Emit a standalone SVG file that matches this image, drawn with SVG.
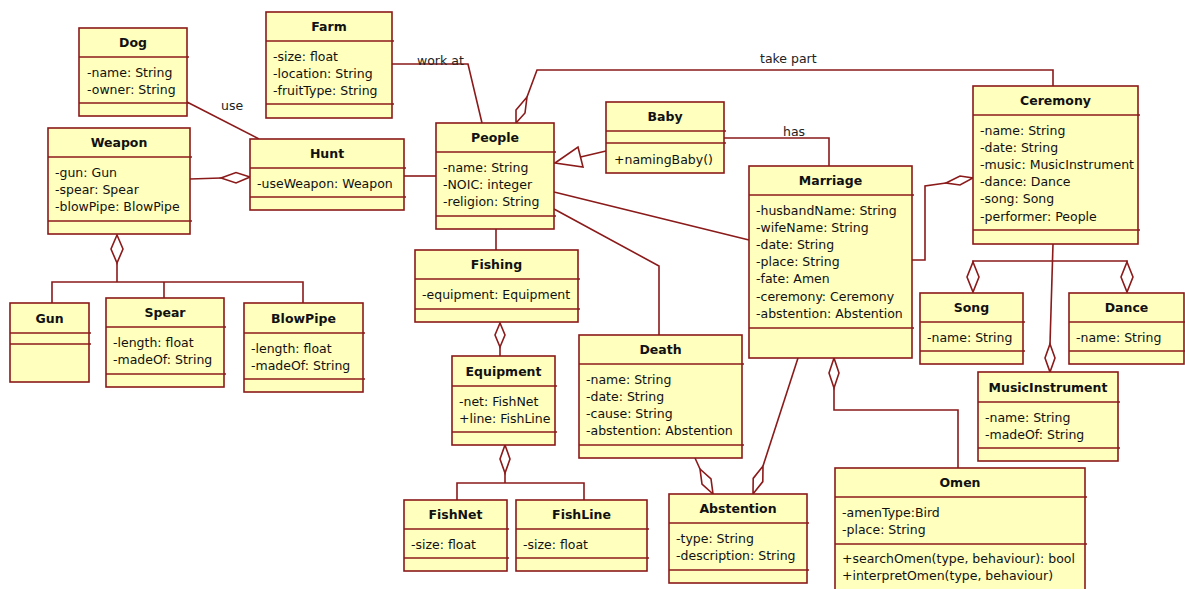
<svg xmlns="http://www.w3.org/2000/svg" width="1185" height="589" viewBox="0 0 1185 589">
<style>
.box{fill:#ffffbe;stroke:#8b1a1a;stroke-width:1.6}
.sep{stroke:#8b1a1a;stroke-width:1.6}
.t{font-family:"DejaVu Sans",Verdana,sans-serif;font-size:12.5px;font-weight:bold;text-anchor:middle;fill:#111}
.a{font-family:"DejaVu Sans",Verdana,sans-serif;font-size:12.5px;fill:#111}
.ln{fill:none;stroke:#8b1a1a;stroke-width:1.6}
.dm{fill:#fff;stroke:#8b1a1a;stroke-width:1.6}
.lb{font-family:"DejaVu Sans",Verdana,sans-serif;font-size:12.5px;fill:#222}
</style>
<rect width="1185" height="589" fill="#fff"/>
<g id="connectors">
<polyline class="ln" points="187,102 259,139"/>
<text class="lb" x="221" y="110">use</text>
<polyline class="ln" points="190,179 221,178"/>
<polygon class="dm" points="250,177 236,172.5 221,178 236,183"/>
<polyline class="ln" points="404,176 436,176"/>
<polyline class="ln" points="392,64 468,64 482,123"/>
<text class="lb" x="417" y="64.5">work at</text>
<polyline class="ln" points="527,97 537,70 1053,70 1053,86"/>
<polygon class="dm" points="516,123 516,110 527,97 525,113"/>
<text class="lb" x="760" y="62.5">take part</text>
<polyline class="ln" points="580.5,157 606,151"/>
<polygon class="dm" points="555,163 578,147 583,167"/>
<polyline class="ln" points="724,138 829,138 829,166"/>
<text class="lb" x="783" y="136">has</text>
<polyline class="ln" points="554,192 749,240"/>
<polyline class="ln" points="554,209 659,266 659,335"/>
<polyline class="ln" points="496,229 496,250"/>
<polyline class="ln" points="500,347 500,356"/>
<polygon class="dm" points="500,323 505,335 500,347 495,335"/>
<polyline class="ln" points="505,473 505,483"/>
<polyline class="ln" points="457,500 457,483 584,483 584,500"/>
<polygon class="dm" points="505,445 510,459 505,473 500,459"/>
<polyline class="ln" points="912,260 925,260 925,186 946,183"/>
<polygon class="dm" points="946,183 960,176 973,178 960,185"/>
<polyline class="ln" points="973,262 973,261 1127,261 1127,262"/>
<polygon class="dm" points="973,262 979,277 973,292 967,277"/>
<polygon class="dm" points="1127,262 1133,277 1127,292 1121,277"/>
<polyline class="ln" points="1053,244 1050,344"/>
<polygon class="dm" points="1050,344 1055,358 1050,372 1045,358"/>
<polyline class="ln" points="834,388 834,410 958,410 958,468"/>
<polygon class="dm" points="834,358 839,373 834,388 829,373"/>
<polyline class="ln" points="798,358 763,466"/>
<polygon class="dm" points="763,466 762.8,481.6 753,494 753.2,478.4"/>
<polyline class="ln" points="695,458 700,469"/>
<polygon class="dm" points="700,469 711,479 713,494 702,484"/>
<polyline class="ln" points="117,263 117,282"/>
<polyline class="ln" points="52,303 52,282 303,282 303,303"/>
<polyline class="ln" points="164,282 164,298"/>
<polygon class="dm" points="117,235 123,249 117,263 111,249"/>
</g>
<g id="Dog"><rect class="box" x="79" y="28" width="108" height="88"/><line class="sep" x1="79" y1="57" x2="189" y2="57"/><line class="sep" x1="79" y1="103" x2="189" y2="103"/>
<text class="t" x="133" y="47">Dog</text><text class="a" x="87" y="76.5">-name: String</text><text class="a" x="87" y="93.7">-owner: String</text></g>
<g id="Farm"><rect class="box" x="266" y="12" width="126" height="106"/><line class="sep" x1="266" y1="41" x2="394" y2="41"/><line class="sep" x1="266" y1="104" x2="394" y2="104"/>
<text class="t" x="329" y="31">Farm</text><text class="a" x="273" y="60.5">-size: float</text><text class="a" x="273" y="77.7">-location: String</text><text class="a" x="273" y="94.9">-fruitType: String</text></g>
<g id="Weapon"><rect class="box" x="48" y="128" width="142" height="106"/><line class="sep" x1="48" y1="157" x2="192" y2="157"/><line class="sep" x1="48" y1="221" x2="192" y2="221"/>
<text class="t" x="119" y="147">Weapon</text><text class="a" x="55" y="176.5">-gun: Gun</text><text class="a" x="55" y="193.7">-spear: Spear</text><text class="a" x="55" y="210.9">-blowPipe: BlowPipe</text></g>
<g id="Hunt"><rect class="box" x="250" y="139" width="154" height="71"/><line class="sep" x1="250" y1="168" x2="406" y2="168"/><line class="sep" x1="250" y1="197" x2="406" y2="197"/>
<text class="t" x="327" y="158">Hunt</text><text class="a" x="257" y="187.5">-useWeapon: Weapon</text></g>
<g id="People"><rect class="box" x="436" y="123" width="118" height="106"/><line class="sep" x1="436" y1="152" x2="556" y2="152"/><line class="sep" x1="436" y1="216" x2="556" y2="216"/>
<text class="t" x="495" y="142">People</text><text class="a" x="443" y="171.5">-name: String</text><text class="a" x="443" y="188.7">-NOIC: integer</text><text class="a" x="443" y="205.9">-religion: String</text></g>
<g id="Baby"><rect class="box" x="606" y="102" width="118" height="71"/><line class="sep" x1="606" y1="131" x2="726" y2="131"/><line class="sep" x1="606" y1="143" x2="726" y2="143"/>
<text class="t" x="665" y="121">Baby</text><text class="a" x="614" y="163.5">+namingBaby()</text></g>
<g id="Marriage"><rect class="box" x="749" y="166" width="163" height="192"/><line class="sep" x1="749" y1="195" x2="914" y2="195"/><line class="sep" x1="749" y1="328" x2="914" y2="328"/>
<text class="t" x="830.5" y="185">Marriage</text><text class="a" x="756" y="214.5">-husbandName: String</text><text class="a" x="756" y="231.7">-wifeName: String</text><text class="a" x="756" y="248.9">-date: String</text><text class="a" x="756" y="266.1">-place: String</text><text class="a" x="756" y="283.3">-fate: Amen</text><text class="a" x="756" y="300.5">-ceremony: Ceremony</text><text class="a" x="756" y="317.7">-abstention: Abstention</text></g>
<g id="Ceremony"><rect class="box" x="973" y="86" width="165" height="158"/><line class="sep" x1="973" y1="115" x2="1140" y2="115"/><line class="sep" x1="973" y1="230" x2="1140" y2="230"/>
<text class="t" x="1055.5" y="105">Ceremony</text><text class="a" x="980" y="134.5">-name: String</text><text class="a" x="980" y="151.7">-date: String</text><text class="a" x="980" y="168.9">-music: MusicInstrument</text><text class="a" x="980" y="186.1">-dance: Dance</text><text class="a" x="980" y="203.3">-song: Song</text><text class="a" x="980" y="220.5">-performer: People</text></g>
<g id="Song"><rect class="box" x="920" y="293" width="103" height="71"/><line class="sep" x1="920" y1="322" x2="1025" y2="322"/><line class="sep" x1="920" y1="351" x2="1025" y2="351"/>
<text class="t" x="971.5" y="312">Song</text><text class="a" x="927" y="341.5">-name: String</text></g>
<g id="Dance"><rect class="box" x="1069" y="293" width="115" height="71"/><line class="sep" x1="1069" y1="322" x2="1185" y2="322"/><line class="sep" x1="1069" y1="351" x2="1185" y2="351"/>
<text class="t" x="1126.5" y="312">Dance</text><text class="a" x="1076" y="341.5">-name: String</text></g>
<g id="MusicInstrument"><rect class="box" x="978" y="372" width="140" height="89"/><line class="sep" x1="978" y1="402" x2="1120" y2="402"/><line class="sep" x1="978" y1="448" x2="1120" y2="448"/>
<text class="t" x="1048" y="391.5">MusicInstrument</text><text class="a" x="985" y="421.5">-name: String</text><text class="a" x="985" y="438.7">-madeOf: String</text></g>
<g id="Omen"><rect class="box" x="835" y="468" width="250" height="130"/><line class="sep" x1="835" y1="497" x2="1087" y2="497"/><line class="sep" x1="835" y1="544" x2="1087" y2="544"/>
<text class="t" x="960" y="487">Omen</text><text class="a" x="842" y="516.5">-amenType:Bird</text><text class="a" x="842" y="533.7">-place: String</text><text class="a" x="842" y="562.5">+searchOmen(type, behaviour): bool</text><text class="a" x="842" y="580">+interpretOmen(type, behaviour)</text></g>
<g id="Fishing"><rect class="box" x="415" y="250" width="163" height="72"/><line class="sep" x1="415" y1="279" x2="580" y2="279"/><line class="sep" x1="415" y1="309" x2="580" y2="309"/>
<text class="t" x="496.5" y="269">Fishing</text><text class="a" x="422" y="298.5">-equipment: Equipment</text></g>
<g id="Equipment"><rect class="box" x="452" y="356" width="103" height="89"/><line class="sep" x1="452" y1="386" x2="557" y2="386"/><line class="sep" x1="452" y1="432" x2="557" y2="432"/>
<text class="t" x="503.5" y="375.5">Equipment</text><text class="a" x="459" y="405.5">-net: FishNet</text><text class="a" x="459" y="422.7">+line: FishLine</text></g>
<g id="Death"><rect class="box" x="579" y="335" width="163" height="123"/><line class="sep" x1="579" y1="364" x2="744" y2="364"/><line class="sep" x1="579" y1="445" x2="744" y2="445"/>
<text class="t" x="660.5" y="354">Death</text><text class="a" x="586" y="383.5">-name: String</text><text class="a" x="586" y="400.7">-date: String</text><text class="a" x="586" y="417.9">-cause: String</text><text class="a" x="586" y="435.1">-abstention: Abstention</text></g>
<g id="Abstention"><rect class="box" x="669" y="494" width="138" height="89"/><line class="sep" x1="669" y1="523" x2="809" y2="523"/><line class="sep" x1="669" y1="570" x2="809" y2="570"/>
<text class="t" x="738" y="513">Abstention</text><text class="a" x="676" y="542.5">-type: String</text><text class="a" x="676" y="559.7">-description: String</text></g>
<g id="FishNet"><rect class="box" x="404" y="500" width="103" height="71"/><line class="sep" x1="404" y1="529" x2="509" y2="529"/><line class="sep" x1="404" y1="558" x2="509" y2="558"/>
<text class="t" x="455.5" y="519">FishNet</text><text class="a" x="411" y="548.5">-size: float</text></g>
<g id="FishLine"><rect class="box" x="516" y="500" width="131" height="71"/><line class="sep" x1="516" y1="529" x2="649" y2="529"/><line class="sep" x1="516" y1="558" x2="649" y2="558"/>
<text class="t" x="581.5" y="519">FishLine</text><text class="a" x="523" y="548.5">-size: float</text></g>
<g id="Gun"><rect class="box" x="10" y="303" width="79" height="79"/><line class="sep" x1="10" y1="333" x2="91" y2="333"/><line class="sep" x1="10" y1="344" x2="91" y2="344"/>
<text class="t" x="49.5" y="322.5">Gun</text></g>
<g id="Spear"><rect class="box" x="106" y="298" width="118" height="89"/><line class="sep" x1="106" y1="327" x2="226" y2="327"/><line class="sep" x1="106" y1="374" x2="226" y2="374"/>
<text class="t" x="165" y="317">Spear</text><text class="a" x="113" y="346.5">-length: float</text><text class="a" x="113" y="363.7">-madeOf: String</text></g>
<g id="BlowPipe"><rect class="box" x="244" y="303" width="119" height="89"/><line class="sep" x1="244" y1="333" x2="365" y2="333"/><line class="sep" x1="244" y1="379" x2="365" y2="379"/>
<text class="t" x="303.5" y="322.5">BlowPipe</text><text class="a" x="251" y="352.5">-length: float</text><text class="a" x="251" y="369.7">-madeOf: String</text></g>
</svg>
